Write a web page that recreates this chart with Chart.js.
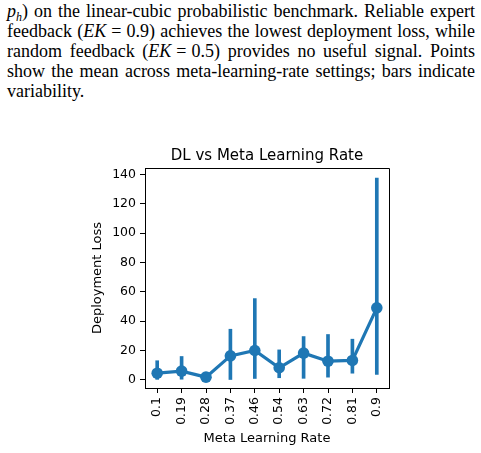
<!doctype html>
<html lang="en">
<head>
<meta charset="utf-8" />
<title>DL vs Meta Learning Rate</title>
<script src="https://cdn.jsdelivr.net/npm/chart.js@4"></script>
<style>
    body {
        margin: 0;
        width: 481px;
        height: 453px;
        background: #fff;
        overflow: hidden;
        position: relative;
    }

    .caption {
        position: absolute;
        left: 7px;
        top: 1px;
        width: 468px;
        font-family: "Liberation Serif", "Times New Roman", serif;
        font-size: 18px;
        line-height: 20.1px;
        color: #000;
    }

    .caption div {
        white-space: nowrap;
        text-align: justify;
        text-align-last: justify;
        height: 20.1px;
    }

    .caption div.last {
        text-align-last: left;
    }

    .caption sub {
        font-size: 12px;
        vertical-align: baseline;
        position: relative;
        top: 4px;
        line-height: 0;
    }

    .caption .eq {
        margin: 0 5px;
    }

    #chart {
        position: absolute;
        left: 0;
        top: 110px;
    }
</style>
</head>
<body>
<div class="caption">
    <div><i>p<sub>h</sub></i>) on the linear-cubic probabilistic benchmark. Reliable expert</div>
    <div>feedback (<i>EK</i><span class="eq">=</span>0.9) achieves the lowest deployment loss, while</div>
    <div>random feedback (<i>EK</i><span class="eq">=</span>0.5) provides no useful signal. Points</div>
    <div>show the mean across meta-learning-rate settings; bars indicate</div>
    <div class="last">variability.</div>
</div>
<canvas id="chart" width="481" height="336"></canvas>

<script>
    // values
    const rates = ['0.1', '0.19', '0.28', '0.37', '0.46', '0.54', '0.63', '0.72', '0.81', '0.9'];
    const meanLoss = [4.5, 5.9, 1.8, 16.3, 20.0, 8.2, 18.2, 12.7, 13.2, 49.1];
    const lowLoss = [0.3, 0.4, 0.8, 0.2, 0.9, 1.4, 1.0, 1.8, 4.5, 3.6];
    const highLoss = [13.0, 15.9, 3.0, 34.5, 55.4, 20.4, 29.5, 30.9, 27.7, 137.7];
    const yTicks = [0, 20, 40, 60, 80, 100, 120, 140];

    const blue = '#1f77b4';
    const tickFont = { family: 'DejaVu Sans', size: 12.5 };
    const labelFont = { family: 'DejaVu Sans', size: 13 };

    // top and right spines, like matplotlib
    const frame = {
        id: 'frame',
        afterDraw(chart) {
            const a = chart.chartArea;
            const ctx = chart.ctx;
            ctx.save();
            ctx.strokeStyle = '#000';
            ctx.lineWidth = 1;
            ctx.beginPath();
            ctx.moveTo(Math.round(a.left) + 0.5, Math.round(a.top) + 0.5);
            ctx.lineTo(Math.round(a.right) + 0.5, Math.round(a.top) + 0.5);
            ctx.lineTo(Math.round(a.right) + 0.5, Math.round(a.bottom) + 0.5);
            ctx.stroke();
            ctx.restore();
        }
    };

    new Chart(document.getElementById('chart'), {
        type: 'bar',
        data: {
            labels: rates,
            datasets: [
                {
                    type: 'line',
                    data: meanLoss,
                    borderColor: blue,
                    borderWidth: 3.2,
                    pointRadius: 5.8,
                    pointBackgroundColor: blue,
                    pointBorderWidth: 0,
                    tension: 0,
                    order: 0,
                },
                {
                    // variability bars drawn as thin floating bars
                    type: 'bar',
                    data: rates.map((r, i) => [lowLoss[i], highLoss[i]]),
                    backgroundColor: blue,
                    borderWidth: 0,
                    barThickness: 3,
                    order: 1,
                },
            ],
        },
        options: {
            responsive: false,
            animation: false,
            layout: { padding: { left: 60, right: 92, top: 0, bottom: 0 } },
            plugins: {
                legend: { display: false },
                tooltip: { enabled: false },
                title: {
                    display: true,
                    text: 'DL vs Meta Learning Rate',
                    fullSize: false,
                    color: '#000',
                    font: { family: 'DejaVu Sans', size: 15, weight: 'normal' },
                    padding: { top: 37, bottom: 3 },
                },
            },
            scales: {
                x: {
                    type: 'category',
                    offset: true,
                    grid: {
                        offset: false,
                        drawOnChartArea: false,
                        drawTicks: true,
                        tickLength: 5,
                        tickColor: '#000',
                    },
                    border: { display: true, color: '#000', width: 1 },
                    ticks: {
                        color: '#000',
                        font: tickFont,
                        autoSkip: false,
                        minRotation: 90,
                        maxRotation: 90,
                        padding: 4,
                    },
                    title: {
                        display: true,
                        text: 'Meta Learning Rate',
                        color: '#000',
                        font: labelFont,
                        padding: { top: 0, bottom: 0 },
                    },
                    afterFit(scale) { scale.height = 58; },
                },
                y: {
                    min: -5.6,
                    max: 144.5,
                    grid: {
                        drawOnChartArea: false,
                        drawTicks: true,
                        tickLength: 5,
                        tickColor: '#000',
                    },
                    border: { display: true, color: '#000', width: 1 },
                    afterBuildTicks(scale) {
                        scale.ticks = yTicks.map(v => ({ value: v }));
                    },
                    ticks: {
                        color: '#000',
                        font: tickFont,
                        padding: 4,
                    },
                    title: {
                        display: true,
                        text: 'Deployment Loss',
                        color: '#000',
                        font: labelFont,
                        padding: { top: 30.2, bottom: 0 },
                    },
                    afterFit(scale) { scale.width = 85; },
                },
            },
        },
        plugins: [frame],
    });
</script>
</body>
</html>
